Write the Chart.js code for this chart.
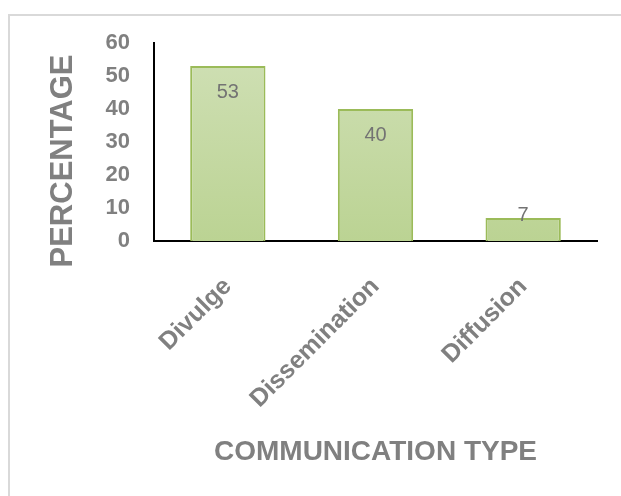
<!DOCTYPE html>
<html>
<head>
<meta charset="utf-8">
<script src="https://cdn.jsdelivr.net/npm/chart.js@4"></script>
<style>
  body { margin: 0; background: #fff; overflow: hidden; }
  #moldura {
    position: absolute; left: 8px; top: 14px;
    width: 700px; height: 600px;
    border: 2px solid #d9d9d9;
  }
  #caixa { position: absolute; left: 0; top: 0; width: 621px; height: 496px; }
</style>
</head>
<body>
<div id="moldura"></div>
<div id="caixa"><canvas id="grafico"></canvas></div>
<script>
const categorias = ["Divulge", "Dissemination", "Diffusion"];
const porcentagens = [53, 40, 7];
const tituloY = "PERCENTAGE";
const tituloX = "COMMUNICATION TYPE";

const fonte = "'Liberation Sans', Arial, sans-serif";
const cinza = "#808080";

// rotulos de valor dentro da barra, perto do topo
const rotulosValor = {
  id: 'rotulosValor',
  afterDatasetsDraw(chart) {
    const ctx = chart.ctx;
    const meta = chart.getDatasetMeta(0);
    ctx.save();
    ctx.font = "20px " + fonte;
    ctx.fillStyle = "#737373";
    ctx.textAlign = "center";
    ctx.textBaseline = "middle";
    meta.data.forEach((barra, i) => {
      const altura = barra.base - barra.y;
      let y = barra.y + 26;
      if (altura < 50) y = barra.y - 2;
      ctx.fillText(String(porcentagens[i]), barra.x, y);
    });
    ctx.restore();
  }
};

// titulo do eixo y desenhado a mao (fica mais abaixo que o centro do eixo)
const tituloEixoY = {
  id: 'tituloEixoY',
  afterDraw(chart) {
    const ctx = chart.ctx;
    ctx.save();
    ctx.translate(63, 161);
    ctx.rotate(-Math.PI / 2);
    ctx.font = "bold 31px " + fonte;
    ctx.fillStyle = cinza;
    ctx.textAlign = "center";
    ctx.textBaseline = "middle";
    ctx.fillText(tituloY, 0, 0);
    ctx.restore();
  }
};

function gradienteBarra(context) {
  const area = context.chart.chartArea;
  if (!area) return "#c4d9a2";
  const g = context.chart.ctx.createLinearGradient(0, area.top, 0, area.bottom);
  g.addColorStop(0, "#d0e0b6");
  g.addColorStop(1, "#bbd393");
  return g;
}

new Chart(document.getElementById('grafico'), {
  type: 'bar',
  data: {
    labels: categorias,
    datasets: [{
      label: 'Percentage',
      data: porcentagens,
      backgroundColor: gradienteBarra,
      borderColor: "#9bbb59",
      borderWidth: 2,
      barPercentage: 1,
      categoryPercentage: 0.51
    }]
  },
  options: {
    responsive: true,
    maintainAspectRatio: false,
    animation: false,
    layout: { padding: { left: 0, top: 43, right: 24, bottom: 0 } },
    plugins: {
      legend: { display: false },
      tooltip: { enabled: false }
    },
    scales: {
      y: {
        min: 0,
        max: 60,
        afterFit(scale) { scale.width = 154; },
        ticks: {
          stepSize: 10,
          color: cinza,
          padding: 24,
          font: { family: fonte, size: 22, weight: 'bold' }
        },
        grid: { display: false, drawTicks: false },
        border: { display: true, color: "#000", width: 2 }
      },
      x: {
        afterFit(scale) { scale.height = 255; },
        ticks: {
          color: cinza,
          minRotation: 45,
          maxRotation: 45,
          autoSkip: false,
          padding: 31,
          font: { family: fonte, size: 25, weight: 'bold' }
        },
        grid: { display: false, drawTicks: false },
        border: { display: true, color: "#000", width: 2 },
        title: {
          display: true,
          text: tituloX,
          color: cinza,
          padding: { top: 4, bottom: 27 },
          font: { family: fonte, size: 28, weight: 'bold' }
        }
      }
    }
  },
  plugins: [rotulosValor, tituloEixoY]
});
</script>
</body>
</html>
